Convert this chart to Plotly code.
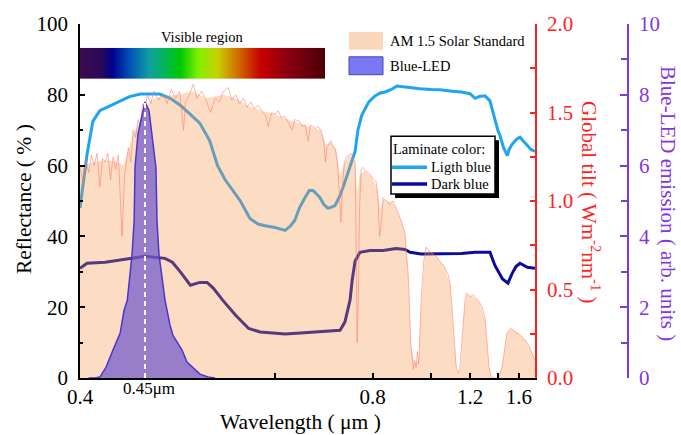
import plotly.graph_objects as go

# ---------------- data ----------------
# AM 1.5 global tilt spectrum (W m^-2 nm^-1), detailed line
AM_WL = [0.400, 0.402, 0.404, 0.406, 0.408, 0.410, 0.412, 0.414, 0.416, 0.418,
         0.420, 0.422, 0.424, 0.426, 0.428, 0.430, 0.431, 0.433, 0.436, 0.438,
         0.440, 0.442, 0.444, 0.446, 0.448, 0.450, 0.452, 0.455, 0.458, 0.462,
         0.466, 0.470, 0.474, 0.478, 0.482, 0.486, 0.488, 0.492, 0.496, 0.500,
         0.505, 0.510, 0.515, 0.520, 0.525, 0.530, 0.536, 0.540, 0.545, 0.550,
         0.555, 0.560, 0.565, 0.570, 0.575, 0.580, 0.586, 0.590, 0.595, 0.600,
         0.605, 0.610, 0.615, 0.620, 0.628, 0.632, 0.640, 0.645, 0.650, 0.656,
         0.660, 0.665, 0.670, 0.675, 0.680, 0.686, 0.689, 0.692, 0.697, 0.700,
         0.705, 0.710, 0.715, 0.719, 0.722, 0.726, 0.730, 0.735, 0.740, 0.745,
         0.750, 0.755, 0.758, 0.760, 0.763, 0.766, 0.770, 0.775, 0.780, 0.790,
         0.800, 0.810, 0.815, 0.820, 0.825, 0.830, 0.840, 0.850, 0.860, 0.870,
         0.880, 0.890, 0.900, 0.905, 0.910, 0.915, 0.920, 0.925, 0.930, 0.935,
         0.940, 0.945, 0.950, 0.955, 0.960, 0.970, 0.980, 0.990, 1.000, 1.010,
         1.020, 1.040, 1.060, 1.080, 1.090, 1.100, 1.110, 1.120, 1.130, 1.140,
         1.150, 1.160, 1.170, 1.180, 1.190, 1.200, 1.220, 1.240, 1.260, 1.280,
         1.300, 1.310, 1.320, 1.330, 1.345, 1.360, 1.400, 1.420, 1.440, 1.460,
         1.480, 1.500, 1.520, 1.540, 1.560, 1.600, 1.640, 1.680, 1.720, 1.760,
         1.800]
AM_GT = [1.19, 1.10, 1.24, 1.16, 1.26, 1.20, 1.27, 1.08, 1.24, 1.22,
         1.27, 1.12, 1.25, 1.18, 1.26, 0.92, 0.80, 1.15, 1.30, 1.22,
         1.40, 1.36, 1.46, 1.42, 1.55, 1.52, 1.60, 1.55, 1.62, 1.57,
         1.61, 1.55, 1.63, 1.58, 1.62, 1.40, 1.56, 1.60, 1.66, 1.58,
         1.62, 1.57, 1.50, 1.58, 1.56, 1.62, 1.64, 1.57, 1.60, 1.55,
         1.58, 1.53, 1.56, 1.52, 1.54, 1.51, 1.48, 1.42, 1.50, 1.49,
         1.51, 1.47, 1.48, 1.45, 1.40, 1.46, 1.45, 1.42, 1.43, 1.34,
         1.43, 1.42, 1.41, 1.42, 1.40, 1.33, 1.22, 1.30, 1.33, 1.34,
         1.31, 1.29, 1.20, 0.98, 0.88, 1.10, 1.22, 1.25, 1.26, 1.27,
         1.24, 1.22, 0.70, 0.20, 0.45, 0.95, 1.18, 1.19, 1.17, 1.16,
         1.13, 1.11, 1.02, 0.80, 0.88, 1.02, 1.00, 0.98, 1.00, 0.96,
         0.92, 0.87, 0.82, 0.70, 0.62, 0.45, 0.20, 0.12, 0.05, 0.10,
         0.06, 0.15, 0.08, 0.25, 0.45, 0.66, 0.74, 0.72, 0.71, 0.70,
         0.69, 0.66, 0.63, 0.58, 0.52, 0.38, 0.20, 0.07, 0.03, 0.05,
         0.18, 0.32, 0.44, 0.48, 0.47, 0.46, 0.47, 0.45, 0.43, 0.40,
         0.34, 0.25, 0.15, 0.06, 0.01, 0.00, 0.00, 0.02, 0.08, 0.18,
         0.25, 0.27, 0.28, 0.27, 0.26, 0.25, 0.23, 0.21, 0.18, 0.14,
         0.10]

# AM 1.5 shaded envelope (the filled area, smoother than the line)
AM_ENV_WL = [0.400, 0.410, 0.420, 0.428, 0.432, 0.436, 0.440, 0.445, 0.450, 0.456,
             0.465, 0.480, 0.495, 0.510, 0.530, 0.545, 0.560, 0.580, 0.600, 0.620,
             0.640, 0.660, 0.680, 0.690, 0.700, 0.712, 0.720, 0.728, 0.740, 0.755,
             0.760, 0.766, 0.780, 0.800, 0.815, 0.822, 0.830, 0.860, 0.880, 0.900,
             0.910, 0.920, 0.935, 0.950, 0.960, 0.975, 0.990, 1.020, 1.060, 1.090,
             1.110, 1.125, 1.145, 1.165, 1.180, 1.220, 1.260, 1.300, 1.330, 1.350,
             1.410, 1.440, 1.480, 1.520, 1.600, 1.680, 1.760, 1.800]
AM_ENV_GT = [1.20, 1.22, 1.23, 1.22, 1.20, 1.28, 1.38, 1.44, 1.53, 1.57,
             1.59, 1.60, 1.62, 1.58, 1.60, 1.58, 1.54, 1.51, 1.49, 1.46,
             1.44, 1.42, 1.40, 1.32, 1.33, 1.29, 1.15, 1.20, 1.26, 1.23,
             1.05, 1.15, 1.17, 1.13, 1.06, 0.95, 1.01, 0.99, 0.92, 0.82,
             0.62, 0.20, 0.08, 0.10, 0.42, 0.70, 0.72, 0.69, 0.63, 0.52,
             0.20, 0.03, 0.05, 0.38, 0.47, 0.46, 0.43, 0.33, 0.06, 0.00,
             0.00, 0.08, 0.25, 0.28, 0.25, 0.21, 0.14, 0.10]

# Reflectance of the light-blue laminate (%)
LB_WL = [0.400, 0.4048, 0.407, 0.409, 0.414, 0.422, 0.430, 0.437, 0.446, 0.455,
         0.463, 0.473, 0.483, 0.493, 0.503, 0.514, 0.523, 0.532, 0.541, 0.551,
         0.564, 0.575, 0.585, 0.600, 0.616, 0.625, 0.632, 0.640, 0.650, 0.658,
         0.665, 0.672, 0.678, 0.686, 0.694, 0.702, 0.709, 0.716, 0.720, 0.730,
         0.743, 0.755, 0.762, 0.771, 0.780, 0.790, 0.807, 0.822, 0.836, 0.855,
         0.873, 0.900, 0.955, 1.000, 1.040, 1.100, 1.150, 1.200, 1.232, 1.260,
         1.300, 1.337, 1.360, 1.376, 1.400, 1.418, 1.450, 1.485, 1.500, 1.530,
         1.580, 1.614, 1.648, 1.708, 1.750, 1.800]
LB_R = [48.0, 63.0, 68.0, 72.5, 75.5, 77.0, 78.5, 79.5, 80.2, 80.3,
        80.2, 79.0, 77.0, 74.5, 72.0, 67.0, 60.0, 56.0, 53.0, 50.0,
        45.0, 43.5, 43.0, 42.5, 41.7, 43.0, 44.5, 48.0, 51.0, 53.0,
        53.0, 52.0, 51.0, 49.0, 48.0, 48.3, 48.7, 50.5, 51.5, 55.0,
        60.0, 64.0, 70.0, 74.0, 76.0, 78.0, 79.7, 80.5, 80.8, 81.5,
        82.5, 82.2, 81.7, 81.5, 81.4, 81.0, 80.8, 80.3, 79.0, 79.5,
        79.7, 78.3, 75.5, 73.0, 70.0, 68.5, 65.0, 62.8, 64.5, 66.0,
        67.5, 68.0, 67.0, 65.4, 64.5, 64.0]

# Reflectance of the dark-blue laminate (%)
DB_WL = [0.400, 0.4048, 0.418, 0.437, 0.450, 0.468, 0.475, 0.483, 0.493, 0.503,
         0.511, 0.518, 0.529, 0.545, 0.562, 0.578, 0.600, 0.616, 0.642, 0.680,
         0.720, 0.731, 0.743, 0.748, 0.755, 0.767, 0.793, 0.830, 0.870, 0.900,
         0.918, 0.960, 1.000, 1.100, 1.150, 1.232, 1.300, 1.337, 1.376, 1.440,
         1.490, 1.530, 1.570, 1.614, 1.700, 1.800]
DB_R = [31.0, 32.4, 32.7, 33.8, 34.4, 33.8, 32.7, 29.9, 26.2, 27.0,
        27.0, 25.4, 22.0, 17.7, 14.0, 13.0, 12.6, 12.4, 12.7, 13.2,
        13.5, 15.8, 22.0, 27.6, 33.0, 35.5, 36.0, 36.0, 36.6, 36.3,
        35.5, 35.0, 35.0, 35.2, 35.2, 35.5, 35.5, 35.5, 31.8, 28.0,
        26.8, 29.5, 31.5, 32.4, 31.3, 31.0]

# Blue-LED emission (arb. units)
LED_WL = [0.4060, 0.4105, 0.4142, 0.4187, 0.4239, 0.4295, 0.4325, 0.4352, 0.4391, 0.4408,
          0.4415, 0.4440, 0.4483, 0.4500, 0.4535, 0.4561, 0.4597, 0.4606, 0.4624, 0.4680,
          0.4727, 0.4756, 0.4845, 0.4895, 0.4958, 0.5032, 0.5120, 0.5200]
LED_EM = [0.00, 0.00, 0.03, 0.31, 0.79, 1.27, 1.90, 2.20, 3.50, 4.45,
          5.94, 6.90, 7.55, 7.80, 7.55, 6.90, 5.94, 4.45, 3.50, 2.20,
          1.50, 1.20, 0.79, 0.45, 0.28, 0.11, 0.03, 0.00]
LED_PEAK_WL = 0.45
LED_PEAK_LABEL = "0.45\u03bcm"

# Wavelength axis (reciprocal / energy-like scale)
X_RANGE_WL = [0.4, 1.8]
X_TICK_WL = [0.4, 0.8, 1.2, 1.6]
X_TICK_TEXT = ["0.4", "0.8", "1.2", "1.6"]
X_MINOR_TICK_WL = [0.6, 1.0, 1.4]
X_TOP_TICK_WL = [0.5, 0.6, 0.7, 0.8, 0.9, 1.0, 1.1, 1.2, 1.3, 1.4, 1.5, 1.6, 1.7]

# Visible-region colour bar
VIS_STOPS = [0.0, 0.08, 0.13, 0.20, 0.28, 0.35, 0.41, 0.48, 0.56, 0.64, 0.735, 0.845, 1.0]
VIS_COLORS = ["#3d0b50", "#2c0858", "#00008c", "#0050b8", "#10a0a0", "#00b850",
              "#00c800", "#80f000", "#c8d000", "#d07000", "#c80000", "#8a0010", "#4a0008"]

# ---------------- styling ----------------
FONT = "Liberation Serif"
RED = "#ff1f1f"
PURPLE = "#8535e0"
LIGHT_BLUE = "#1ea5f2"
DARK_BLUE = "#0c0c98"
AM_FILL = "rgba(246,150,70,0.33)"
AM_LINE = "rgba(255,120,110,0.55)"
AM_SWATCH = "#fbd8bb"
LED_FILL = "rgba(110,85,205,0.7)"
LED_LINE = "#4a36c8"
LED_SWATCH = "#7a78f2"

W, H = 681, 435
ML, MR, MT, MB = 80, 53, 22, 57
PW = W - ML - MR
PH = H - MT - MB


def px(x):
    return (x - ML) / PW


def py(y):
    return (H - MB - y) / PH


def recip(seq):
    return [1.0 / v for v in seq]


XD = px(535)

fig = go.Figure()

fig.add_trace(go.Scatter(x=recip(LB_WL), y=LB_R, mode="lines", name="Ligth blue",
                         line=dict(color=LIGHT_BLUE, width=3), showlegend=False))
fig.add_trace(go.Scatter(x=recip(DB_WL), y=DB_R, mode="lines", name="Dark blue",
                         line=dict(color=DARK_BLUE, width=3), showlegend=False))
fig.add_trace(go.Scatter(x=recip(AM_ENV_WL), y=AM_ENV_GT, yaxis="y2", mode="none",
                         name="AM 1.5 Solar Standard", fill="tozeroy", fillcolor=AM_FILL,
                         showlegend=False, hoverinfo="skip"))
fig.add_trace(go.Scatter(x=recip(AM_WL), y=AM_GT, yaxis="y2", mode="lines",
                         name="AM 1.5 Solar Standard",
                         line=dict(color=AM_LINE, width=1), showlegend=False))
fig.add_trace(go.Scatter(x=recip(LED_WL), y=LED_EM, yaxis="y3", mode="lines",
                         name="Blue-LED", fill="tozeroy", fillcolor=LED_FILL,
                         line=dict(color=LED_LINE, width=1.5), showlegend=False))
fig.add_trace(go.Scatter(x=[1.0 / LED_PEAK_WL, 1.0 / LED_PEAK_WL], y=[0, max(LED_EM)],
                         yaxis="y3", mode="lines", showlegend=False, hoverinfo="skip",
                         line=dict(color="white", width=2, dash="5px,4px")))
fig.add_trace(go.Heatmap(z=[VIS_STOPS], x=VIS_STOPS, y=[0], xaxis="x3", yaxis="y4",
                         colorscale=[[s, c] for s, c in zip(VIS_STOPS, VIS_COLORS)],
                         zmin=0, zmax=1, zsmooth="best", showscale=False, hoverinfo="skip"))

tickfont = dict(family=FONT, size=21, color="black")
xr = recip(X_RANGE_WL)

fig.update_layout(
    width=W, height=H,
    margin=dict(l=ML, r=MR, t=MT, b=MB, pad=0),
    paper_bgcolor="white", plot_bgcolor="white",
    font=dict(family=FONT, color="black"),
    showlegend=False,
    xaxis=dict(domain=[0, XD], range=xr, tickvals=recip(X_TICK_WL), ticktext=X_TICK_TEXT,
               ticks="inside", ticklen=5, tickwidth=1.5, tickcolor="black",
               minor=dict(tickvals=recip(X_MINOR_TICK_WL), ticks="inside", ticklen=5,
                          tickwidth=1.5, tickcolor="black"),
               showline=True, linecolor="black", linewidth=1.5, showgrid=False,
               zeroline=False, tickfont=tickfont, anchor="y", ticklabelstandoff=-1),
    xaxis2=dict(domain=[0, XD], range=xr, overlaying="x", side="top", anchor="y",
                tickvals=recip(X_TOP_TICK_WL), showticklabels=False, ticks="inside",
                ticklen=5, tickwidth=1.5, tickcolor="black", showline=True,
                linecolor="black", linewidth=1.5, showgrid=False, zeroline=False),
    xaxis3=dict(domain=[px(80), px(325)], range=[0, 1], anchor="y4", visible=False),
    yaxis4=dict(domain=[py(77), py(46)], range=[-0.5, 0.5], anchor="x3", visible=False),
    yaxis=dict(range=[0, 100], tick0=0, dtick=20, ticks="inside", ticklen=5, tickwidth=1.5,
               tickcolor="black", minor=dict(dtick=10, ticks="inside", ticklen=3,
                                             tickwidth=1.5, tickcolor="black"),
               showline=True, linecolor="black", linewidth=1.5, showgrid=False,
               zeroline=False, tickfont=tickfont, anchor="x", ticklabelstandoff=6),
    yaxis2=dict(range=[0, 2], overlaying="y", side="right", anchor="x",
                tickvals=[0, 0.5, 1.0, 1.5, 2.0], tickformat=".1f",
                ticks="inside", ticklen=5, tickwidth=1.5, tickcolor=RED,
                minor=dict(dtick=0.25, ticks="inside", ticklen=5, tickwidth=1.5, tickcolor=RED),
                showline=True, linecolor=RED, linewidth=1.5, showgrid=False, zeroline=False,
                tickfont=dict(family=FONT, size=21, color=RED), ticklabelstandoff=6),
    yaxis3=dict(range=[0, 10], overlaying="y", side="right", anchor="free", position=1,
                tick0=0, dtick=2, ticks="inside", ticklen=7, tickwidth=1.5, tickcolor=PURPLE,
                minor=dict(dtick=1, ticks="inside", ticklen=6, tickwidth=1.5, tickcolor=PURPLE),
                showline=True, linecolor=PURPLE, linewidth=1.5, showgrid=False, zeroline=False,
                tickfont=dict(family=FONT, size=21, color=PURPLE), ticklabelstandoff=6),
)

ann = []


def add_text(text, x, y, size, color="black", angle=0, xanchor="center", xref="paper", xshift=0):
    ann.append(dict(text=text, x=x, y=y, xref=xref, yref="paper", showarrow=False,
                    textangle=angle, xanchor=xanchor, yanchor="middle", xshift=xshift,
                    font=dict(family=FONT, size=size, color=color)))


add_text("Reflectance ( % )", px(24), py(198), 21.5, angle=-90)
add_text("Wavelength ( \u03bcm )", px(300), py(422), 21.5)
add_text("Global tilt ( Wm<sup>-2</sup>nm<sup>-1</sup> )", px(590), py(201), 21, RED, angle=90)
add_text("Blue-LED emission ( arb. units )", px(668), py(202), 21, PURPLE, angle=90)
add_text("Visible region", px(202), py(35), 14.5)
add_text(LED_PEAK_LABEL, 1.0 / LED_PEAK_WL, py(389), 17, xref="x", xshift=4)
# legend 1
add_text("AM 1.5 Solar Standard", px(388), py(39), 14.5, xanchor="left")
add_text("Blue-LED", px(388), py(64), 14.5, xanchor="left")
# laminate legend
add_text("Laminate color:", px(391), py(148), 14.5, xanchor="left")
add_text("Ligth blue", px(429), py(166), 14.5, xanchor="left")
add_text("Dark blue", px(429), py(183), 14.5, xanchor="left")

shapes = [
    dict(type="rect", xref="paper", yref="paper", x0=px(349), x1=px(383), y0=py(48), y1=py(30),
         fillcolor=AM_SWATCH, line=dict(width=0)),
    dict(type="rect", xref="paper", yref="paper", x0=px(349), x1=px(383), y0=py(73), y1=py(55),
         fillcolor=LED_SWATCH, line=dict(color="#4a44b8", width=1)),
    dict(type="rect", xref="paper", yref="paper", x0=px(395), x1=px(499), y0=py(197), y1=py(139),
         fillcolor="black", line=dict(width=0)),
    dict(type="rect", xref="paper", yref="paper", x0=px(391), x1=px(495), y0=py(193), y1=py(135),
         fillcolor="white", line=dict(color="black", width=1.5)),
    dict(type="line", xref="paper", yref="paper", x0=px(392), x1=px(427), y0=py(166), y1=py(166),
         line=dict(color=LIGHT_BLUE, width=3.5)),
    dict(type="line", xref="paper", yref="paper", x0=px(392), x1=px(427), y0=py(183), y1=py(183),
         line=dict(color=DARK_BLUE, width=3.5)),
]

fig.update_layout(annotations=ann, shapes=shapes)
fig.write_html("out.html")
